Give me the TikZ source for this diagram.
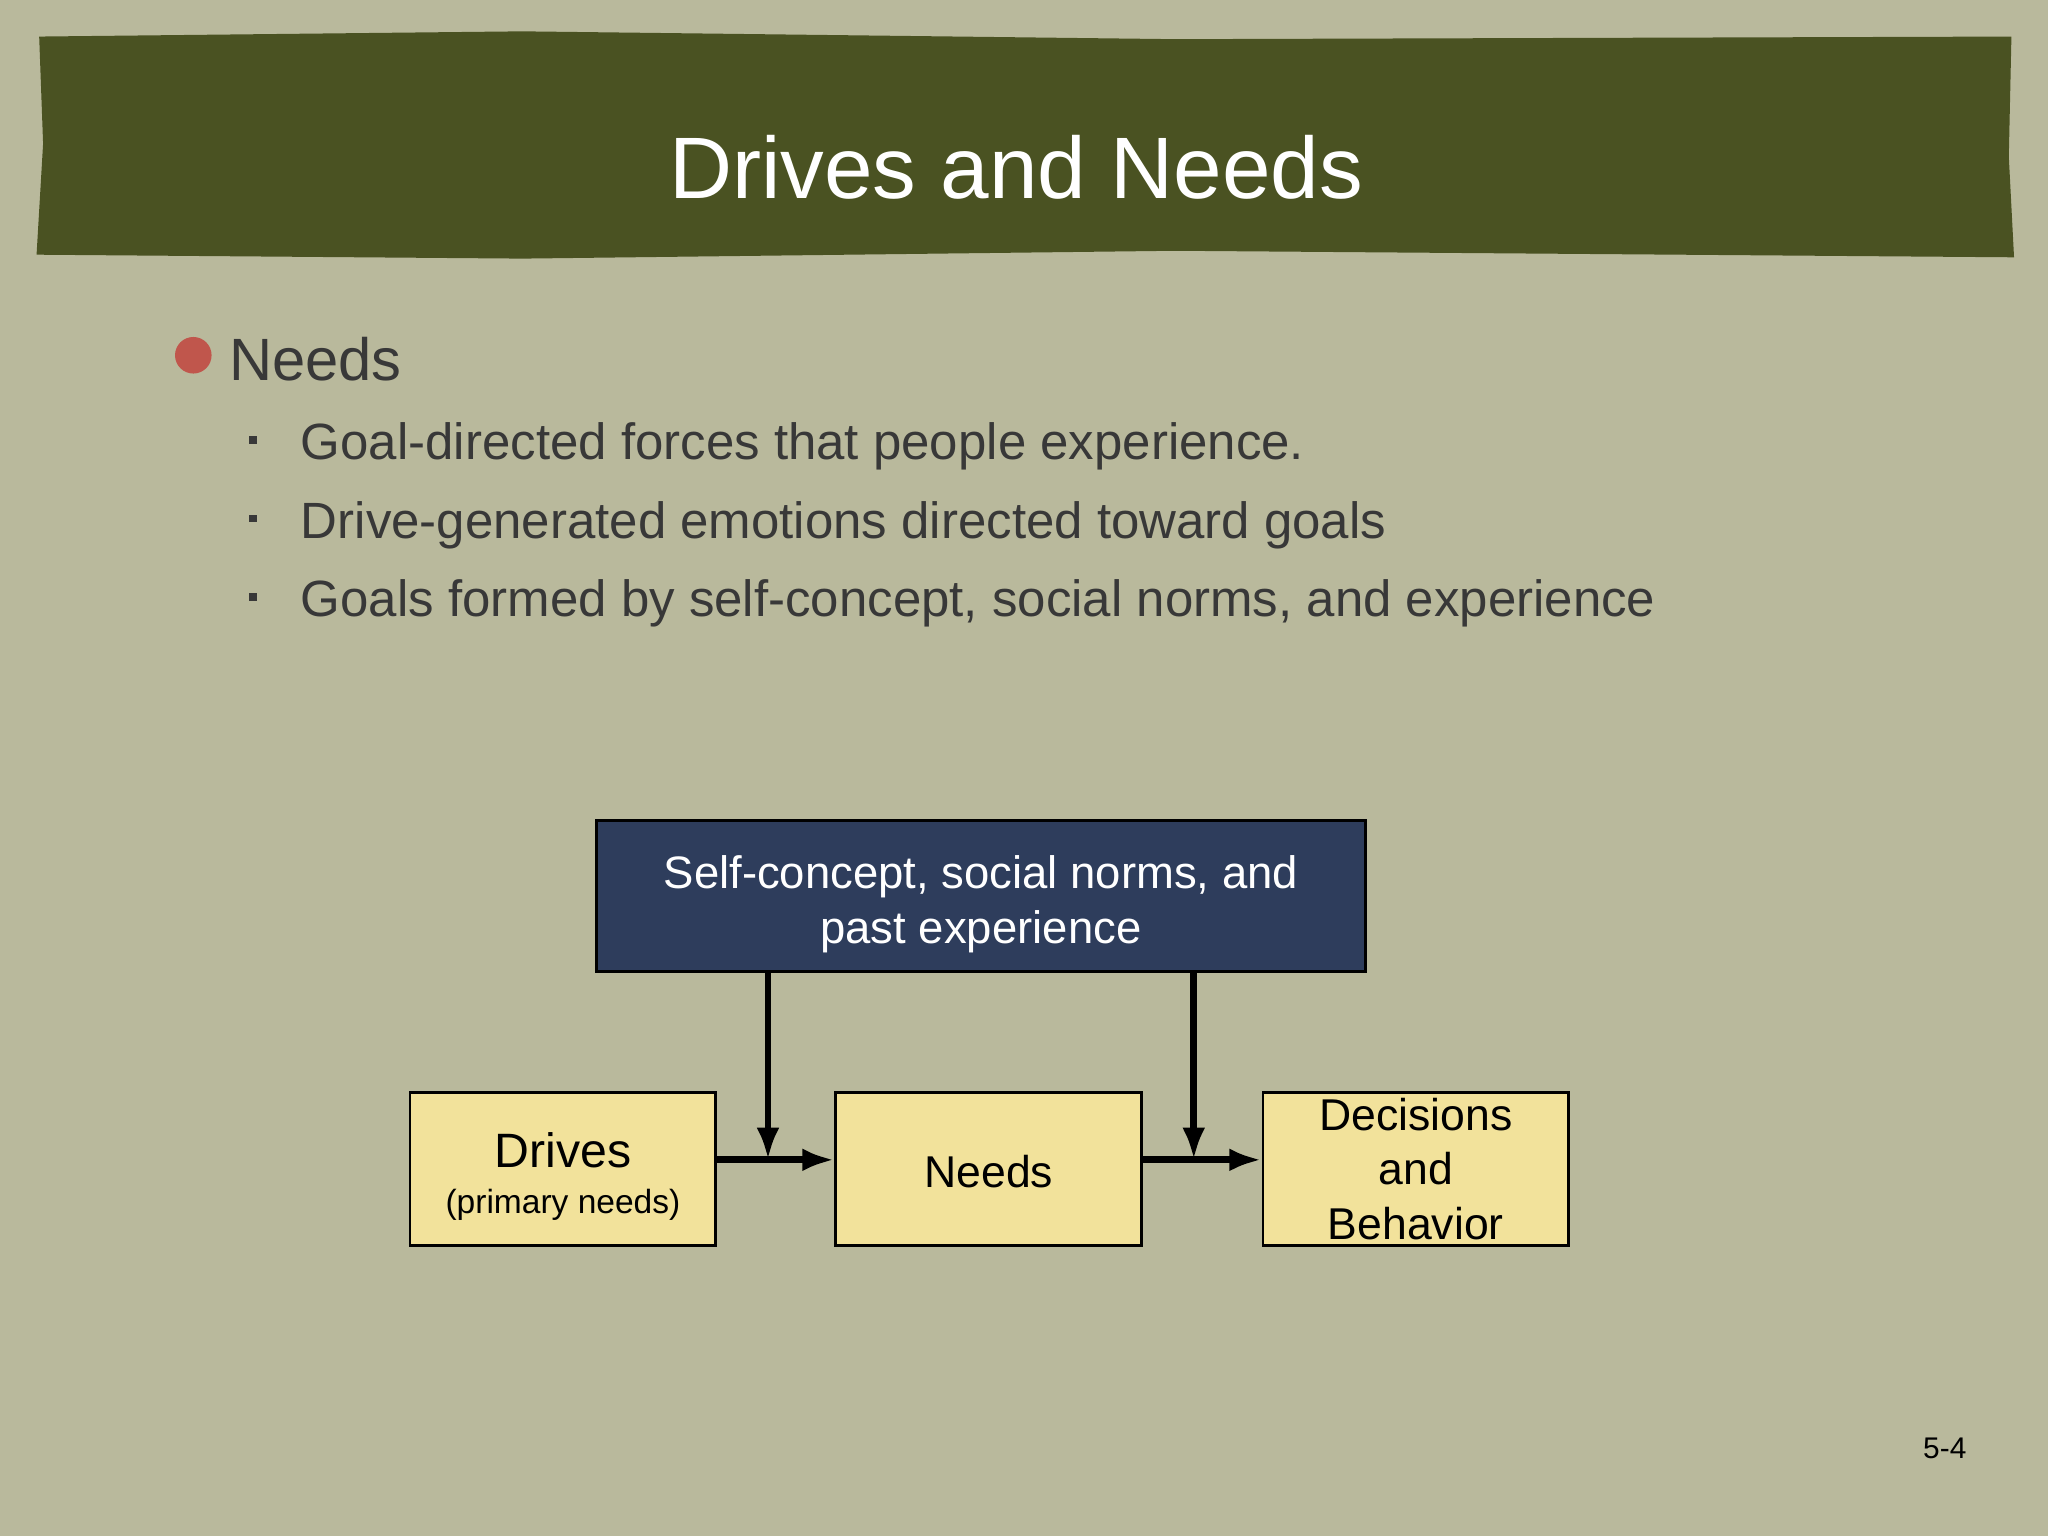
\documentclass[tikz,border=0pt]{standalone}
\usepackage{fontspec}
\setmainfont{Liberation Sans}
\usetikzlibrary{arrows.meta}
\definecolor{bg}{HTML}{B9B99C}
\definecolor{olive}{HTML}{4A5222}
\definecolor{navy}{HTML}{2E3D5C}
\definecolor{pale}{HTML}{F2E29B}
\definecolor{txt}{HTML}{383838}
\definecolor{dot}{HTML}{C0564C}
\begin{document}
\begin{tikzpicture}[x=0.01cm,y=-0.01cm,
  ybox/.style={draw=black,fill=pale,minimum width=2.34cm,minimum height=1.17cm,align=center,inner sep=0pt,line width=0.6pt},
  arr/.style={-{Latex[length=7pt,width=5pt]},line width=1.5pt},
  sub/.style={anchor=west,text=txt,font=\fontsize{11.1}{13}\selectfont}]
\useasboundingbox (0,0) rectangle (1568,1176);
\fill[bg] (0,0) rectangle (1568,1176);
\fill[olive] (30,28) -- (400,24) -- (900,30) -- (1540,28) -- (1538,120) -- (1542,197) -- (900,192) -- (400,198) -- (28,195) -- (33,110) -- cycle;
\node[text=white,font=\fontsize{19}{22}\selectfont] (title) at (778,128) {Drives and Needs};
\fill[dot] (148,272) circle (14);
\node[anchor=west,text=txt,font=\fontsize{13}{15}\selectfont] (needs) at (163,275) {Needs};
\foreach \yy/\t [count=\i] in {340/{Goal-directed forces that people experience.},400/{Drive-generated emotions directed toward goals},460/{Goals formed by self-concept, social norms, and experience}}{
  \fill[txt] (191,334+\yy-340) rectangle (197,340+\yy-340);
  \node[sub] (s\i) at (218,\yy+2) {\t};
}
\node[draw=black,fill=navy,minimum width=5.88cm,minimum height=1.16cm,inner sep=0pt,line width=0.6pt] (top) at (751,686) {};
\node[text=white,align=center,font=\fontsize{9.9}{12}\selectfont] (toplbl) at (751,692) {Self-concept, social norms, and\\past experience};
\node[ybox] (drv) at (431,895) {};
\node[align=center] (drvlbl) at (431,901) {{\fontsize{10.5}{12}\selectfont Drives}\\[-2pt]{\fontsize{7.3}{9}\selectfont (primary needs)}};
\node[ybox] (nd) at (757,895) {};
\node[font=\fontsize{9.7}{11}\selectfont] (ndlbl) at (757,897) {Needs};
\node[ybox,font=\fontsize{9.7}{11.9}\selectfont] (dec) at (1084,895) {Decisions\\and\\Behavior};
\coordinate (j1) at (588,888);
\coordinate (j2) at (914,888);
\draw[arr] (drv.east |- j1) -- (nd.west |- j1);
\draw[arr] (nd.east |- j2) -- (dec.west |- j2);
\draw[arr] (top.south -| j1) -- (j1);
\draw[arr] (top.south -| j2) -- (j2);
\node[font=\fontsize{6.5}{8}\selectfont] (pg) at (1489,1109) {5-4};
\end{tikzpicture}
\end{document}
